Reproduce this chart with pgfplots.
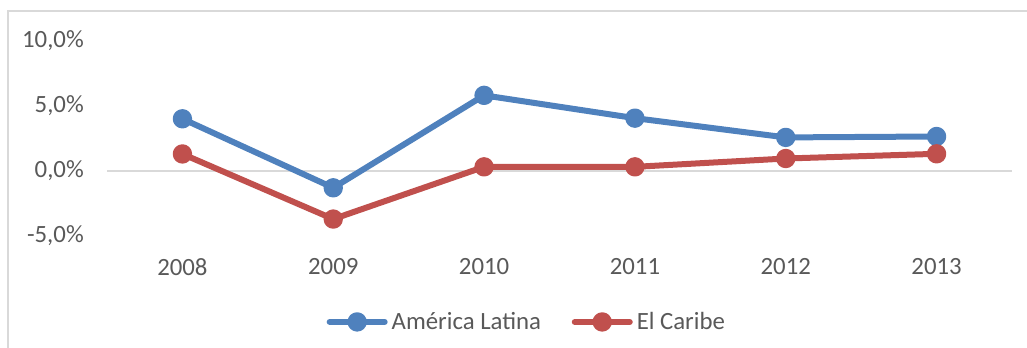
\documentclass[border=0pt]{standalone}
\usepackage{fontspec}
\setmainfont{Carlito}
\usepackage{pgfplots}
\pgfplotsset{compat=1.18}
\definecolor{blueS}{HTML}{4F81BD}
\definecolor{redS}{HTML}{C0504D}
\definecolor{txt}{HTML}{595959}
\definecolor{gridc}{HTML}{D9D9D9}
\begin{document}
\begin{tikzpicture}
\path[use as bounding box] (0,0) rectangle (770.25pt,261pt);
\draw[gridc, line width=1.1pt] (6pt,0) -- (6pt,252.75pt) -- (770.25pt,252.75pt);
\begin{axis}[
 at={(80.25pt,84pt)}, anchor=south west,
 scale only axis, width=678.75pt, height=146.5pt,
 xmin=-0.5, xmax=5.5, ymin=-5, ymax=10,
 axis line style={draw=none}, major tick length=0pt,
 xtick={0,...,5}, xticklabels={2008,2009,2010,2011,2012,2013},
 ytick={-5,0,5,10}, yticklabels={{-5,0\%},{0,0\%},{5,0\%},{10,0\%}},
 extra y ticks={0}, extra y tick labels={}, extra y tick style={grid=major},
 major grid style={gridc, line width=1.1pt},
 tick label style={font=\fontsize{18.6}{22}\selectfont, text=txt},
 xticklabel style={anchor=center, yshift=-23.25pt, inner sep=0pt},
 yticklabel style={anchor=east, xshift=-17.25pt, inner sep=0pt},
 clip=false,
 legend columns=2,
 legend style={at={(0.465,-0.44)}, anchor=center, draw=none, fill=none,
   font=\fontsize{18.6}{22}\selectfont, text=txt,
   /tikz/every even column/.append style={column sep=20pt},
   nodes={inner xsep=3pt}},
 legend cell align=left,
 legend image code/.code={\draw[mark repeat=2,mark phase=2,line cap=round,#1] plot coordinates {(0pt,0pt) (20.6pt,0pt) (41.25pt,0pt)};},
 every axis plot/.append style={line width=4.5pt, line join=round, mark=*, mark size=5pt, mark options={solid, line width=0.5pt}},
]
\addplot[blueS, mark options={fill=blueS}] coordinates {(0,4.0) (1,-1.3) (2,5.8) (3,4.05) (4,2.57) (5,2.64)};
\addlegendentry{América Latina}
\addplot[redS, mark options={fill=redS}] coordinates {(0,1.3) (1,-3.7) (2,0.31) (3,0.31) (4,0.95) (5,1.31)};
\addlegendentry{El Caribe}
\end{axis}
\end{tikzpicture}
\end{document}
